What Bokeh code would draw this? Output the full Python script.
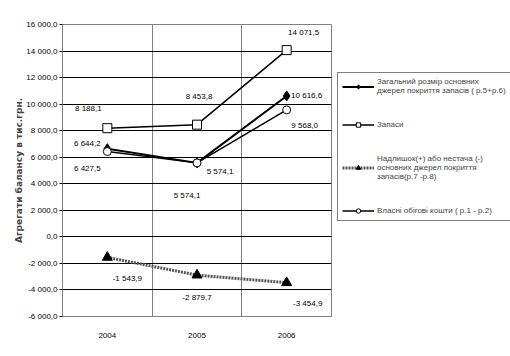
from bokeh.plotting import figure
from bokeh.layouts import row
from bokeh.core.properties import value
from bokeh.models import FixedTicker, Legend, LegendItem, ColumnDataSource, LabelSet, Range1d
from bokeh.embed import file_html
from bokeh.resources import INLINE

years = ["2004", "2005", "2006"]
total_sources = [6644.2, 5574.1, 10616.6]
inventories = [8188.1, 8453.8, 14071.5]
surplus = [-1543.9, -2879.7, -3454.9]
own_working = [6427.5, 5574.1, 9568.0]
y_ticks = [-6000, -4000, -2000, 0, 2000, 4000, 6000, 8000, 10000, 12000, 14000, 16000]

names = [
    "Загальний розмір основних\nджерел покриття запасів ( р.5+р.6)",
    "Запаси",
    "Надлишок(+) або нестача (-)\nосновних джерел покриття\nзапасів(р.7 -р.8)",
    "Власні обігові кошти ( р.1 - р.2)",
]

# label pixel offsets (style only)
off_total = [(-20, 5), (23, -9), (20, 0)]
off_inv = [(-19, 20), (2, 28), (17, 18)]
off_sur = [(20, -21), (0, -22), (21, -21)]
off_own = [(-20, -17), (-10, -33), (18, -16)]

FONT = "Liberation Sans"
FS = "8px"


def fmt(v):
    return f"{v:,.1f}".replace(",", " ").replace(".", ",")


xs = [i + 0.5 for i in range(len(years))]

p = figure(width=332, height=356, output_backend="svg", toolbar_location=None,
           x_range=Range1d(0, len(years)), y_range=Range1d(-6000, 16000),
           min_border_left=62, min_border_right=1, min_border_top=24, min_border_bottom=40)
p.background_fill_color = "white"
p.outline_line_color = "#808080"

p.xaxis.ticker = FixedTicker(ticks=xs)
p.xaxis.major_label_overrides = {x: y for x, y in zip(xs, years)}
p.xgrid.ticker = FixedTicker(ticks=list(range(1, len(years))))
p.xgrid.grid_line_color = "#808080"
p.yaxis.ticker = FixedTicker(ticks=y_ticks)
p.yaxis.major_label_overrides = {t: fmt(t) for t in y_ticks}
p.ygrid.ticker = FixedTicker(ticks=y_ticks)
p.ygrid.grid_line_color = "black"

for ax in (p.xaxis[0], p.yaxis[0]):
    ax.axis_line_color = "#808080"
    ax.major_label_text_font = FONT
    ax.major_label_text_font_size = FS
    ax.major_label_text_color = "black"
    ax.minor_tick_line_color = None
p.xaxis.major_tick_line_color = None
p.xaxis.major_label_standoff = 10
p.yaxis.major_tick_line_color = "black"
p.yaxis.major_tick_in = 0
p.yaxis.major_tick_out = 3
p.yaxis.major_label_standoff = 2
p.yaxis.axis_label = "Агрегати балансу в тис.грн."
p.yaxis.axis_label_text_font = "DejaVu Sans"
p.yaxis.axis_label_text_font_style = "bold"
p.yaxis.axis_label_text_font_size = "9px"
p.yaxis.axis_label_standoff = -1

STY = [
    dict(line=dict(line_color="black", line_width=2),
         marker=dict(marker="diamond", size=10, fill_color="black", line_color="black")),
    dict(line=dict(line_color="black", line_width=1.5),
         marker=dict(marker="square", size=9, fill_color="white", line_color="black", line_width=1)),
    dict(line=dict(line_color="#555555", line_width=3, line_dash="2 1"),
         marker=dict(marker="triangle", size=10, fill_color="black", line_color="black")),
    dict(line=dict(line_color="black", line_width=1.5),
         marker=dict(marker="circle", size=8, fill_color="white", line_color="black", line_width=1)),
]
series = [total_sources, inventories, surplus, own_working]

# draw order: inventories, own working lines, total, own markers, surplus
p.line(xs, inventories, **STY[1]["line"])
p.scatter(xs, inventories, **STY[1]["marker"])
p.line(xs, own_working, **STY[3]["line"])
p.line(xs, total_sources, **STY[0]["line"])
p.scatter(xs, total_sources, **STY[0]["marker"])
p.scatter(xs, own_working, **STY[3]["marker"])
p.line(xs, surplus, **STY[2]["line"])
p.scatter(xs, surplus, **STY[2]["marker"])

for vals, offs in ((total_sources, off_total), (inventories, off_inv), (surplus, off_sur), (own_working, off_own)):
    src = ColumnDataSource(dict(x=xs, y=vals, t=[fmt(v) for v in vals],
                                dx=[o[0] for o in offs], dy=[o[1] for o in offs]))
    ls = LabelSet(x="x", y="y", text="t", x_offset="dx", y_offset="dy", source=src,
                  text_font=value(FONT), text_font_size=value(FS), text_align="center",
                  text_baseline="middle", text_color="black")
    p.add_layout(ls)

# legend panel: the same series drawn again, kept outside this panel's visible range
p2 = figure(width=178, height=356, output_backend="svg", toolbar_location=None,
            x_range=Range1d(100, 101), y_range=Range1d(1e6, 1e6 + 1),
            min_border=0, min_border_left=0, min_border_right=0, min_border_top=0, min_border_bottom=0)
p2.axis.visible = False
p2.grid.visible = False
p2.outline_line_color = None

items = []
for name, sty, vals in zip(names, STY, series):
    r1 = p2.line(xs, vals, **sty["line"])
    r2 = p2.scatter(xs, vals, **sty["marker"])
    items.append(LegendItem(label=name, renderers=[r1, r2]))

legend = Legend(items=items, location=(5, 95))
legend.label_text_font = FONT
legend.label_text_font_size = "8px"
legend.label_height = 11
legend.glyph_height = 11
legend.border_line_color = "black"
legend.border_line_width = 1
legend.glyph_width = 32
legend.label_standoff = 3
legend.spacing = 24
legend.padding = 4
legend.margin = 0
legend.background_fill_alpha = 1
p2.add_layout(legend)

layout = row(p, p2)
open("out.html", "w").write(file_html(layout, INLINE))
